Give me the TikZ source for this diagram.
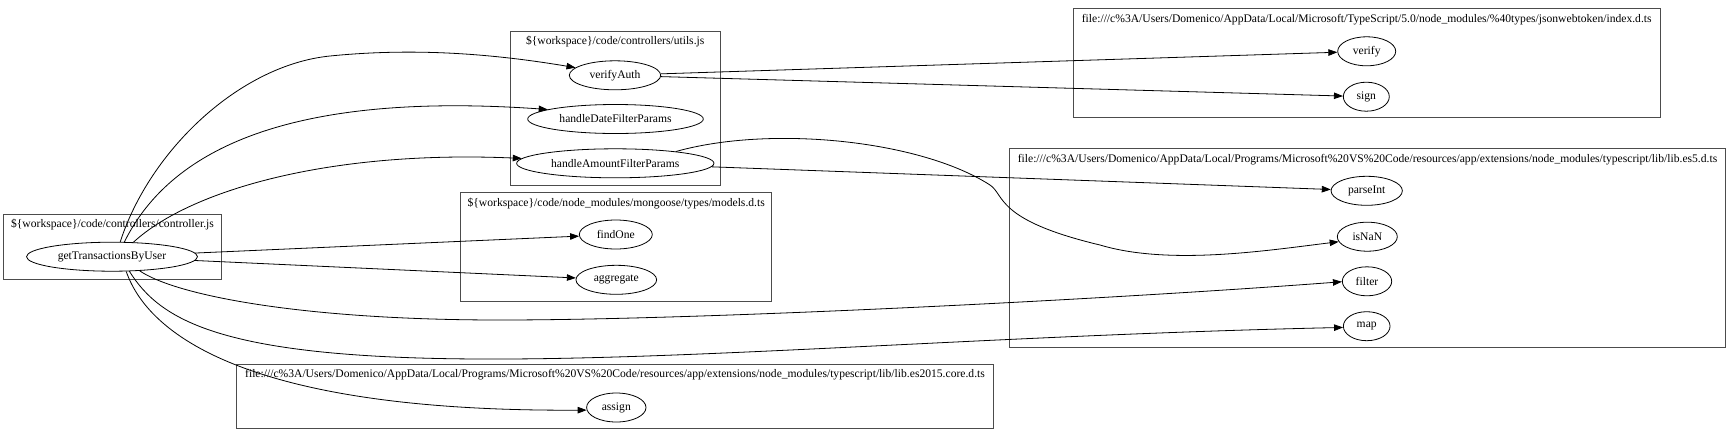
\documentclass[tikz,border=0pt]{standalone}
\usepackage{fontspec}
\setmainfont{Liberation Serif}
\usetikzlibrary{arrows.meta,shapes.geometric}
\newcommand{\flab}[1]{\makebox[0pt]{#1}}
\begin{document}
\begin{tikzpicture}[x=1pt,y=-1pt,
  fn/.style={draw=black, line width=0.8pt, ellipse, fill=white, inner sep=0pt, minimum height=29pt, font=\fontsize{11.6}{13.5}\selectfont},
  cluster/.style={draw=black!70, line width=1pt},
  ctitle/.style={inner sep=0pt, font=\fontsize{11.6}{13.5}\selectfont},
  edge/.style={draw=black, line width=0.8pt, -{Triangle[length=9pt,width=6.5pt]}}]
\useasboundingbox (0,0) rectangle (1728,432);

% clusters
\draw[cluster] (3.3,214.3) rectangle (221.7,279);
\node[ctitle] (tctl) at (112.5,225) {\$\{workspace\}/code/controllers/controller.js};
\draw[cluster] (510.3,31.7) rectangle (720,185);
\node[ctitle] (tutl) at (615.2,41.7) {\$\{workspace\}/code/controllers/utils.js};
\draw[cluster] (460.7,192.3) rectangle (771.7,301.7);
\node[ctitle] (tmod) at (616.2,203.3) {\$\{workspace\}/code/node\_modules/mongoose/types/models.d.ts};
\draw[cluster] (1073.3,8.3) rectangle (1660,117.5);
\node[ctitle] (tjwt) at (1366.7,19.5) {file:///c\%3A/Users/Domenico/AppData/Local/Microsoft/TypeScript/5.0/node\_modules/\%40types/jsonwebtoken/index.d.ts};
\draw[cluster] (1009.3,148.3) rectangle (1725.7,347.5);
\node[ctitle] (tes5) at (1367.5,159.3) {file:///c\%3A/Users/Domenico/AppData/Local/Programs/Microsoft\%20VS\%20Code/resources/app/extensions/node\_modules/typescript/lib/lib.es5.d.ts};
\draw[cluster] (236.7,364) rectangle (993.3,428.3);
\node[ctitle] (tes15) at (615,375) {file:///c\%3A/Users/Domenico/AppData/Local/Programs/Microsoft\%20VS\%20Code/resources/app/extensions/node\_modules/typescript/lib/lib.es2015.core.d.ts};

% nodes
\node[fn, minimum width=171pt] (gt) at (112,256.7) {\flab{getTransactionsByUser}};
\node[fn, minimum width=91.4pt] (va) at (615,75.3) {\flab{verifyAuth}};
\node[fn, minimum width=175.6pt] (hd) at (615.5,119) {\flab{handleDateFilterParams}};
\node[fn, minimum width=197.3pt] (ham) at (615.3,163.3) {\flab{handleAmountFilterParams}};
\node[fn, minimum width=73pt] (fo) at (615.8,234.5) {\flab{findOne}};
\node[fn, minimum width=80.7pt] (ag) at (616.3,279.8) {\flab{aggregate}};
\node[fn, minimum width=58pt] (vf) at (1366.7,51.3) {\flab{verify}};
\node[fn, minimum width=46pt] (sg) at (1366.3,96.7) {\flab{sign}};
\node[fn, minimum width=71.3pt] (pi) at (1366.7,190.8) {\flab{parseInt}};
\node[fn, minimum width=60pt] (nan) at (1367.3,236.7) {\flab{isNaN}};
\node[fn, minimum width=49.4pt] (fi) at (1367,281.3) {\flab{filter}};
\node[fn, minimum width=46.7pt] (mp) at (1366.7,326.2) {\flab{map}};
\node[fn, minimum width=59.4pt] (as) at (616.3,407.5) {\flab{assign}};

% edges
\draw[edge] (gt.61) .. controls (150,150) and (240,65) .. (330,56) .. controls (420,47) and (500,55) .. (va.169);
\draw[edge] (gt.50) .. controls (165,160) and (270,90) .. (hd.172);
\draw[edge] (gt.34) .. controls (190,190) and (330,150) .. (ham.177);
\draw[edge] (gt) -- (fo);
\draw[edge] (gt) -- (ag);
\draw[edge] (gt.-27) .. controls (175,295) and (300,320) .. (500,320) .. controls (700,320) and (1100,300) .. (fi.181);
\draw[edge] (gt.-40) .. controls (160,320) and (220,358) .. (480,359) .. controls (700,360) and (1000,335) .. (mp.183);
\draw[edge] (gt.-46) .. controls (150,340) and (260,412) .. (as.185);
\draw[edge] (va) -- (vf);
\draw[edge] (va) -- (sg);
\draw[edge] (ham) -- (pi);
\draw[edge] (ham.11) .. controls (770,125) and (920,140) .. (990,185) .. controls (1005,195) and (995,220) .. (1100,245) .. controls (1170,266) and (1270,250) .. (nan.190);
\end{tikzpicture}
\end{document}
